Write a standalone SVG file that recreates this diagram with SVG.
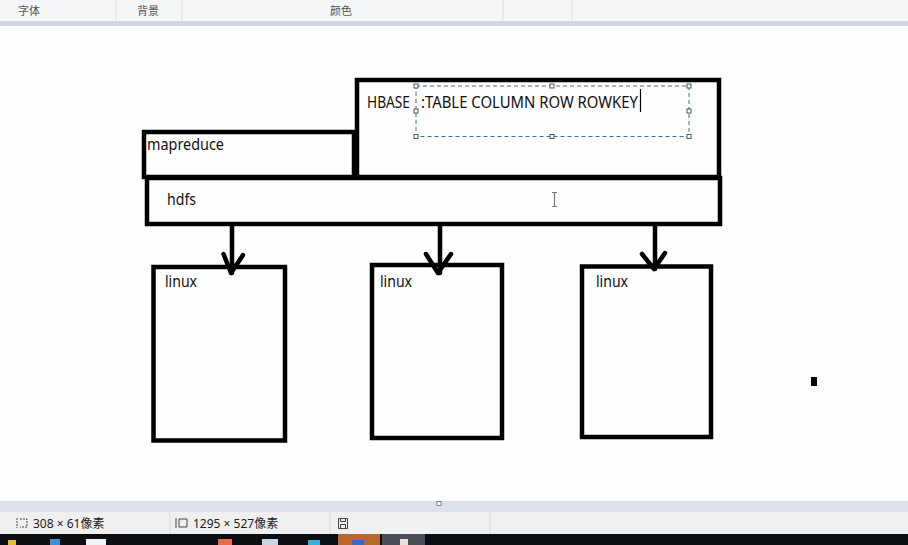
<svg xmlns="http://www.w3.org/2000/svg" width="908" height="545" viewBox="0 0 908 545">
<defs>
<style>
.box{fill:none;stroke:#000;stroke-width:4.5;stroke-linejoin:miter}
.lbl{font-family:"Noto Sans","Open Sans","DejaVu Sans",sans-serif;font-size:16.5px;fill:#111}
.ui{font-family:"Noto Sans CJK SC","Noto Sans",sans-serif;font-size:11px;fill:#555}
.st{font-family:"Noto Sans","Noto Sans CJK SC",sans-serif;font-size:12px;fill:#222}
.arr{fill:none;stroke:#000;stroke-width:4.5;stroke-linecap:round;stroke-linejoin:round}
.hdl{fill:#fff;stroke:#555;stroke-width:1}
.sep{stroke:#dcdde0;stroke-width:1}
</style>
</defs>
<rect width="908" height="545" fill="#fefefe"/>
<!-- toolbar -->
<g id="toolbar">
<rect x="0" y="0" width="908" height="21" fill="#f5f6f7"/>
<line class="sep" x1="116" y1="0" x2="116" y2="20"/>
<line class="sep" x1="182" y1="0" x2="182" y2="20"/>
<line class="sep" x1="503" y1="0" x2="503" y2="20"/>
<line class="sep" x1="572" y1="0" x2="572" y2="20"/>
<text class="ui" x="18" y="15">字体</text>
<text class="ui" x="137" y="15">背景</text>
<text class="ui" x="330" y="15">颜色</text>
<rect x="0" y="21" width="908" height="5" fill="#d3d6de"/>
</g>
<!-- nodes -->
<g id="hbase">
<rect class="box" x="357" y="80" width="362" height="97"/>
<text class="lbl" x="367" y="107.5" textLength="43" lengthAdjust="spacingAndGlyphs">HBASE</text>
<text class="lbl" x="421" y="107.5" textLength="217" lengthAdjust="spacingAndGlyphs">:TABLE COLUMN ROW ROWKEY</text>
</g>
<g id="selection">
<rect x="416" y="86" width="273" height="50.5" fill="none" stroke="#3a6f9e" stroke-width="1" stroke-dasharray="4,3"/>
<rect class="hdl" x="414" y="84" width="4" height="4"/>
<rect class="hdl" x="550" y="84" width="4" height="4"/>
<rect class="hdl" x="687" y="84" width="4" height="4"/>
<rect class="hdl" x="414" y="109" width="4" height="4"/>
<rect class="hdl" x="687" y="109" width="4" height="4"/>
<rect class="hdl" x="414" y="134.5" width="4" height="4"/>
<rect class="hdl" x="550" y="134.5" width="4" height="4"/>
<rect class="hdl" x="687" y="134.5" width="4" height="4"/>
<line x1="640.5" y1="89" x2="640.5" y2="112" stroke="#000" stroke-width="1.2"/>
</g>
<g id="mapreduce">
<rect class="box" x="144" y="132" width="210" height="45"/>
<text class="lbl" x="147" y="150" textLength="77" lengthAdjust="spacingAndGlyphs">mapreduce</text>
</g>
<g id="hdfs">
<rect class="box" x="147" y="178" width="573" height="46"/>
<text class="lbl" x="167" y="204.5" textLength="29" lengthAdjust="spacingAndGlyphs">hdfs</text>
<path d="M552 192.5h5M554.5 192.5v14M552 206.5h5" fill="none" stroke="#777" stroke-width="1.2"/>
</g>
<g id="linux1">
<rect class="box" x="153.5" y="267" width="131.5" height="173.5"/>
<text class="lbl" x="165" y="286.5" textLength="32" lengthAdjust="spacingAndGlyphs">linux</text>
</g>
<g id="linux2">
<rect class="box" x="372" y="265" width="130" height="173"/>
<text class="lbl" x="380" y="286.5" textLength="32" lengthAdjust="spacingAndGlyphs">linux</text>
</g>
<g id="linux3">
<rect class="box" x="582" y="266.5" width="129" height="170.5"/>
<text class="lbl" x="596" y="286.5" textLength="32" lengthAdjust="spacingAndGlyphs">linux</text>
</g>
<!-- connectors -->
<g id="connectors">
<path class="arr" d="M232 226V273M223.5 254L231 273L243 255"/>
<path class="arr" d="M440 226V273M426 254L438 273L451 254"/>
<path class="arr" d="M655 226V269M642 254L654 269L665 253"/>
</g>
<rect x="811" y="377" width="6" height="9" fill="#000"/>
<!-- status area -->
<g id="statusbar">
<rect x="0" y="501" width="908" height="11" fill="#dde1e9"/>
<rect x="437" y="501.5" width="4" height="4" fill="#fff" stroke="#666" stroke-width="0.8"/>
<rect x="0" y="512" width="908" height="22" fill="#f0f0f0"/>
<line class="sep" x1="170" y1="512" x2="170" y2="534"/>
<line class="sep" x1="330" y1="512" x2="330" y2="534"/>
<line class="sep" x1="490" y1="512" x2="490" y2="534"/>
<path d="M17 518v10M20 519h7v8h-7" fill="none" stroke="#444" stroke-width="1" stroke-dasharray="2,1"/>
<text class="st" x="33" y="528">308 × 61像素</text>
<path d="M176 518v10M179 519h8v8h-8z" fill="none" stroke="#444" stroke-width="1"/>
<text class="st" x="193" y="528">1295 × 527像素</text>
<path d="M338.5 518.5h9v10h-9zM340.5 518.5v3h5v-3M340.5 528.5v-4h5v4" fill="none" stroke="#444" stroke-width="1"/>
<rect x="0" y="534" width="908" height="11" fill="#0b0f14"/>
<rect x="8" y="540" width="8" height="5" fill="#e6b93a"/>
<rect x="50" y="539" width="10" height="6" fill="#3d8fd6"/>
<rect x="86" y="539" width="20" height="6" fill="#f2f2f2"/>
<rect x="218" y="539" width="14" height="6" fill="#e86a4a"/>
<rect x="262" y="539" width="16" height="6" fill="#c9d4e3"/>
<rect x="308" y="540" width="12" height="5" fill="#2fb3d6"/>
<rect x="338" y="534" width="42" height="11" fill="#b8682c"/>
<rect x="352" y="540" width="12" height="5" fill="#2f6fc4"/>
<rect x="382" y="534" width="43" height="11" fill="#4a4f57"/>
<rect x="400" y="539" width="8" height="6" fill="#e8e2d6"/>
</g>
</svg>
